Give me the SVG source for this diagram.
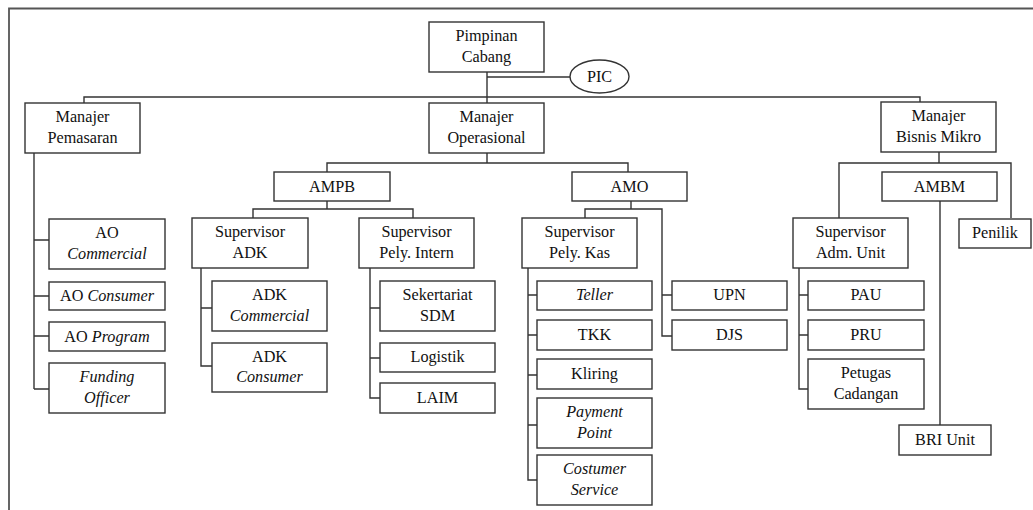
<svg xmlns="http://www.w3.org/2000/svg" width="1033" height="510" viewBox="0 0 1033 510">
<style>
  .b{fill:#fff;stroke:#333;stroke-width:1.4}
  .t{font-family:"Liberation Serif","Times New Roman",serif;font-size:16.2px;fill:#111;text-anchor:middle}
  .i{font-style:italic}
  .c{fill:none;stroke:#333;stroke-width:1.4}
  .f{fill:none;stroke:#555;stroke-width:1.8}
</style>
<rect width="1033" height="510" fill="#fff"/>
<path class="f" d="M9,510 V8.5 H1033"/>
<g id="connectors" class="c">
  <path d="M487,72 V103"/>
  <path d="M487,77 H570"/>
  <path d="M84,103 V97 H920 V102"/>
  <path d="M34,153 V389"/>
  <path d="M34,240 H49 M34,296 H49 M34,336 H49 M34,389 H49"/>
  <path d="M487,153 V163 M327,172 V163 H628 V172"/>
  <path d="M327,201 V209 M253,218 V209 H413 V218"/>
  <path d="M201,268 V366 H212 M201,308 H212"/>
  <path d="M370,268 V398 H380 M370,308 H380 M370,358 H380"/>
  <path d="M631,201 V209 M585,218 V209 H662 V336 H672 M662,295 H672"/>
  <path d="M528,268 V480 H537 M528,295 H537 M528,335 H537 M528,375 H537 M528,425 H537"/>
  <path d="M939,152 V163 M839,218 V163 H1011 V218"/>
  <path d="M940,201 V425"/>
  <path d="M799,268 V389 H808 M799,295 H808 M799,335 H808"/>
</g>
<g id="pimpinan"><rect class="b" x="429" y="22" width="115" height="50"/><text class="t" x="486.5" y="41">Pimpinan</text><text class="t" x="486.5" y="62">Cabang</text></g>
<g id="pic"><ellipse class="b" cx="599.5" cy="76.5" rx="29.5" ry="16.5"/><text class="t" x="599.5" y="82">PIC</text></g>
<g id="mpem"><rect class="b" x="25" y="103" width="115" height="50"/><text class="t" x="82.5" y="122">Manajer</text><text class="t" x="82.5" y="143">Pemasaran</text></g>
<g id="mops"><rect class="b" x="429" y="103" width="115" height="50"/><text class="t" x="486.5" y="122">Manajer</text><text class="t" x="486.5" y="143">Operasional</text></g>
<g id="mbm"><rect class="b" x="881" y="102" width="115" height="50"/><text class="t" x="938.5" y="121">Manajer</text><text class="t" x="938.5" y="142">Bisnis Mikro</text></g>
<g id="aocom"><rect class="b" x="49" y="219" width="116" height="50"/><text class="t" x="107" y="238">AO</text><text class="t i" x="107" y="259">Commercial</text></g>
<g id="aocon"><rect class="b" x="49" y="282" width="116" height="28"/><text class="t" x="107" y="301">AO <tspan class="i">Consumer</tspan></text></g>
<g id="aoprog"><rect class="b" x="49" y="322" width="116" height="29"/><text class="t" x="107" y="342">AO <tspan class="i">Program</tspan></text></g>
<g id="funding"><rect class="b" x="49" y="363" width="116" height="50"/><text class="t i" x="107" y="382">Funding</text><text class="t i" x="107" y="403">Officer</text></g>
<g id="ampb"><rect class="b" x="274" y="172" width="116" height="29"/><text class="t" x="332" y="192">AMPB</text></g>
<g id="amo"><rect class="b" x="572" y="172" width="115" height="29"/><text class="t" x="629.5" y="192">AMO</text></g>
<g id="ambm"><rect class="b" x="882" y="172" width="115" height="29"/><text class="t" x="939.5" y="192">AMBM</text></g>
<g id="supadk"><rect class="b" x="192" y="218" width="116" height="50"/><text class="t" x="250" y="237">Supervisor</text><text class="t" x="250" y="258">ADK</text></g>
<g id="suppely"><rect class="b" x="359" y="218" width="115" height="50"/><text class="t" x="416.5" y="237">Supervisor</text><text class="t" x="416.5" y="258">Pely. Intern</text></g>
<g id="adkcom"><rect class="b" x="212" y="281" width="115" height="50"/><text class="t" x="269.5" y="300">ADK</text><text class="t i" x="269.5" y="321">Commercial</text></g>
<g id="adkcon"><rect class="b" x="212" y="343" width="115" height="49"/><text class="t" x="269.5" y="362">ADK</text><text class="t i" x="269.5" y="382">Consumer</text></g>
<g id="sekr"><rect class="b" x="380" y="281" width="115" height="50"/><text class="t" x="437.5" y="300">Sekertariat</text><text class="t" x="437.5" y="321">SDM</text></g>
<g id="logistik"><rect class="b" x="380" y="343" width="115" height="29"/><text class="t" x="437.5" y="362">Logistik</text></g>
<g id="laim"><rect class="b" x="380" y="383" width="115" height="30"/><text class="t" x="437.5" y="403">LAIM</text></g>
<g id="supkas"><rect class="b" x="522" y="218" width="115" height="50"/><text class="t" x="579.5" y="237">Supervisor</text><text class="t" x="579.5" y="258">Pely. Kas</text></g>
<g id="teller"><rect class="b" x="537" y="281" width="115" height="29"/><text class="t i" x="594.5" y="300">Teller</text></g>
<g id="tkk"><rect class="b" x="537" y="320" width="115" height="30"/><text class="t" x="594.5" y="340">TKK</text></g>
<g id="kliring"><rect class="b" x="537" y="359" width="115" height="30"/><text class="t" x="594.5" y="379">Kliring</text></g>
<g id="payment"><rect class="b" x="537" y="398" width="115" height="50"/><text class="t i" x="594.5" y="417">Payment</text><text class="t i" x="594.5" y="438">Point</text></g>
<g id="cs"><rect class="b" x="537" y="455" width="115" height="50"/><text class="t i" x="594.5" y="474">Costumer</text><text class="t i" x="594.5" y="495">Service</text></g>
<g id="upn"><rect class="b" x="672" y="281" width="115" height="29"/><text class="t" x="729.5" y="300">UPN</text></g>
<g id="djs"><rect class="b" x="672" y="320" width="115" height="30"/><text class="t" x="729.5" y="340">DJS</text></g>
<g id="supadm"><rect class="b" x="793" y="218" width="115" height="50"/><text class="t" x="850.5" y="237">Supervisor</text><text class="t" x="850.5" y="258">Adm. Unit</text></g>
<g id="penilik"><rect class="b" x="959" y="219" width="72" height="29"/><text class="t" x="995" y="238">Penilik</text></g>
<g id="pau"><rect class="b" x="808" y="281" width="116" height="29"/><text class="t" x="866" y="300">PAU</text></g>
<g id="pru"><rect class="b" x="808" y="320" width="116" height="30"/><text class="t" x="866" y="340">PRU</text></g>
<g id="petugas"><rect class="b" x="808" y="359" width="116" height="50"/><text class="t" x="866" y="378">Petugas</text><text class="t" x="866" y="399">Cadangan</text></g>
<g id="bri"><rect class="b" x="899" y="425" width="92" height="30"/><text class="t" x="945" y="445">BRI Unit</text></g>
</svg>
